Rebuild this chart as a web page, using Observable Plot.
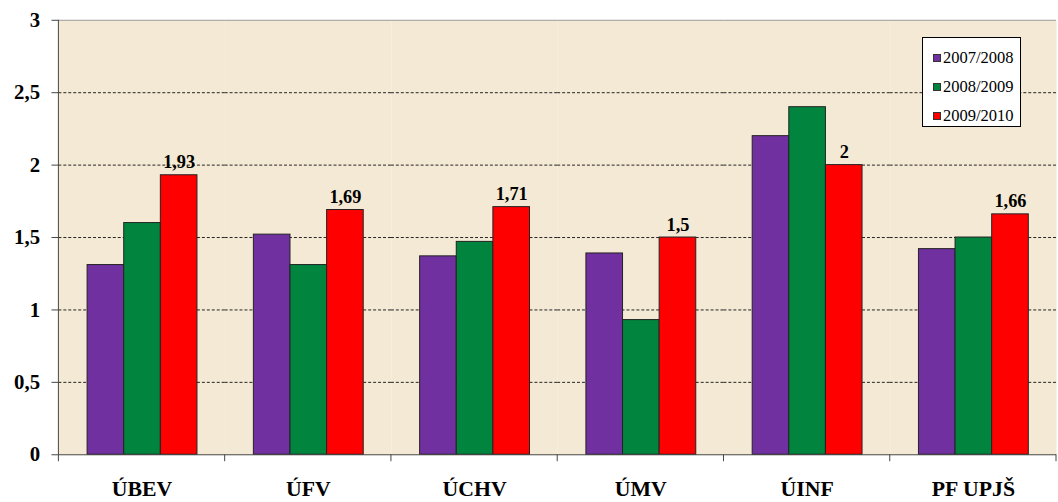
<!DOCTYPE html>
<html>
<head>
<meta charset="utf-8">
<script src="https://cdn.jsdelivr.net/npm/d3@7"></script>
<script src="https://cdn.jsdelivr.net/npm/@observablehq/plot@0.6"></script>
<style>
  html, body { margin: 0; padding: 0; background: #fff; overflow: hidden; }
  #wrap { position: relative; width: 1058px; height: 502px; overflow: hidden; }
  #wrap svg text { font-family: "Liberation Serif", "Times New Roman", Times, serif; }
  #legend {
    position: absolute; left: 922px; top: 37px; width: 99px; height: 90px;
    border: 1px solid #000; background: #fff; box-sizing: border-box;
    font-family: "Liberation Serif", "Times New Roman", Times, serif; font-size: 16.5px; color: #000;
    padding-top: 5px;
  }
  #legend .item { display: flex; align-items: center; height: 29px; padding-left: 10px; }
  #legend .sw { width: 8px; height: 8px; border: 1px solid #333; box-sizing: border-box; margin-right: 2px; flex: none; }
</style>
</head>
<body>
<div id="wrap"></div>
<script>
const categories = ["ÚBEV", "ÚFV", "ÚCHV", "ÚMV", "ÚINF", "PF UPJŠ"];
const series = ["2007/2008", "2008/2009", "2009/2010"];
const values0708 = [1.31, 1.52, 1.37, 1.39, 2.2, 1.42];
const values0809 = [1.6, 1.31, 1.47, 0.93, 2.4, 1.5];
const values0910 = [1.93, 1.69, 1.71, 1.5, 2, 1.66];
const yTicks = [0, 0.5, 1, 1.5, 2, 2.5, 3];
const colors = ["#7030A0", "#00843E", "#FF0000"];

const seriesValues = [values0708, values0809, values0910];
const rows = [];
categories.forEach((c, i) => {
  series.forEach((s, j) => rows.push({cat: c, series: s, value: seriesValues[j][i]}));
});
const fmt = d => String(d).replace(".", ",");
const beige = "#F4E9D4";

const plot = Plot.plot({
  width: 1069,
  height: 502,
  marginLeft: 57,
  marginRight: 0,
  marginTop: 20,
  marginBottom: 43,
  style: {fontFamily: "'Liberation Serif', 'Times New Roman', serif", background: "transparent", color: "#000", overflow: "visible"},
  fx: {domain: categories, padding: 0, label: null},
  x: {domain: series, paddingInner: 0, paddingOuter: 0.745, axis: null},
  y: {domain: [0, 3], label: null},
  color: {domain: series, range: colors},
  marks: [
    Plot.frame({fill: beige, stroke: null}),
    Plot.ruleY([0.5, 1, 1.5, 2, 2.5], {stroke: "#222", strokeDasharray: "3,2", strokeWidth: 1}),
    Plot.ruleY([3], {stroke: "#999", strokeWidth: 1}),
    Plot.barY(rows, {fx: "cat", x: "series", y: "value", fill: "series", stroke: "#222", strokeWidth: 1}),
    Plot.text(rows.filter(d => d.series === "2009/2010"), {
      fx: "cat", x: "series", y: "value", text: d => fmt(d.value),
      dy: -7, lineAnchor: "bottom", fontWeight: "bold", fontSize: 18.5, fill: "#000"
    }),
    Plot.ruleY([0], {stroke: "#444", strokeWidth: 1}),
    Plot.axisY({
      ticks: yTicks, tickSize: 7, tickPadding: 12, tickFormat: fmt,
      fontSize: 21, fontWeight: "bold", stroke: "#444", label: null
    }),
    Plot.axisFx({
      anchor: "bottom", tickSize: 0, tickPadding: 26,
      fontSize: 22, fontWeight: "bold", label: null
    })
  ]
});

// axis line and category boundary ticks from Plot's own scales
const y = plot.scale("y");
const fx = plot.scale("fx");
const svg = d3.select(plot);
const x0 = fx.apply(categories[0]);
const y0 = y.apply(0);
svg.append("line")
  .attr("x1", x0).attr("x2", x0)
  .attr("y1", y.apply(3)).attr("y2", y0 + 7)
  .attr("stroke", "#444").attr("stroke-width", 1);
const bounds = categories.map(c => fx.apply(c));
bounds.push(fx.apply(categories[categories.length - 1]) + fx.bandwidth);
bounds.slice(1).forEach(bx => {
  svg.append("line")
    .attr("x1", bx).attr("x2", bx)
    .attr("y1", y0).attr("y2", y0 + 7)
    .attr("stroke", "#444").attr("stroke-width", 1);
});

const wrap = document.getElementById("wrap");
wrap.appendChild(plot);

const legend = document.createElement("div");
legend.id = "legend";
series.forEach((s, i) => {
  const item = document.createElement("div");
  item.className = "item";
  const sw = document.createElement("span");
  sw.className = "sw";
  sw.style.background = colors[i];
  const t = document.createElement("span");
  t.textContent = s;
  item.appendChild(sw);
  item.appendChild(t);
  legend.appendChild(item);
});
wrap.appendChild(legend);
</script>
</body>
</html>
